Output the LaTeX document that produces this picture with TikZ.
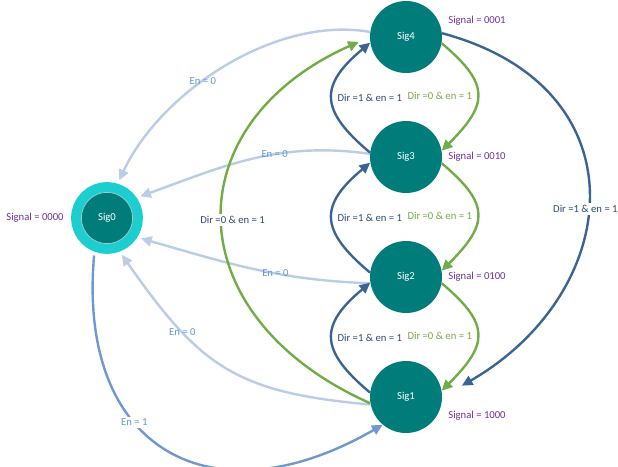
\documentclass[tikz,border=0pt]{standalone}
\usepackage{fontspec}
\setmainfont{Carlito}
\usetikzlibrary{arrows.meta}
\definecolor{stateteal}{RGB}{0,124,122}
\definecolor{ringcyan}{RGB}{28,206,208}
\definecolor{enzero}{RGB}{185,205,230}
\definecolor{enone}{RGB}{112,152,206}
\definecolor{dirone}{RGB}{58,100,146}
\definecolor{dirzero}{RGB}{112,173,71}
\definecolor{sigpurple}{RGB}{112,48,160}
\definecolor{entxt}{RGB}{91,155,213}
\definecolor{dirtxt}{RGB}{44,74,122}
\def\ptxt#1{\textcolor{sigpurple}{#1}}

\begin{document}
\begin{tikzpicture}[x=.75pt,y=.75pt,font=\fontsize{8}{9.6}\selectfont,
   state/.style={circle,fill=stateteal,text=white,minimum size=54pt,inner sep=0pt},
   trans/.style={line width=1.8pt,-{Triangle[length=8pt,width=7.5pt]}},
   gap/.style={fill=white,inner sep=1.5pt}]
\useasboundingbox (0,0) rectangle (618,-467);
       \node [state] at (406,-37) (sig4) {Sig4};
       \node at (477,-21) (sig4 out) {\ptxt{Signal = 0001}};
          \node [state] at (406,-157) (sig3) {Sig3};
          \node at (477,-157) (sig3 out) {\ptxt{Signal = 0010}};
             \node [state] at (406,-277) (sig2) {Sig2};
             \node at (477,-277) (sig2 out) {\ptxt{Signal = 0100}};
                \node [state] at (406,-397) (sig1) {Sig1};
                \node at (477,-416) (sig1 out) {\ptxt{Signal = 1000}};
       \node [state,minimum size=38.5pt,draw=white!60!stateteal,line width=.6pt,
              preaction={draw=ringcyan,line width=15.4pt},outer sep=10.5pt] at (107,-218) (sig0) {Sig0};
       \node at (35,-218) (sig0 out) {\ptxt{Signal = 0000}};
%
%
\path[trans,color=enzero] (sig4.172) edge [out=170,in=65,looseness=.85] node [pos=.58,text=entxt] {En = 0} (sig0.72);
\path[trans,color=enzero] (sig3.175) edge [out=172,in=20] node [pos=.4,text=entxt] {En = 0} (sig0.33);
\path[trans,color=enzero] (sig2.190) edge [out=178,in=-16] node [pos=.4,text=entxt] {En = 0} (sig0.-31);
\path[trans,color=enzero] (sig1.192) edge [out=175,in=-55,looseness=1.2] node [pos=.71,text=entxt] {En = 0} (sig0.-68);
\path[trans,color=enone] (sig0.-109) edge [out=-95,in=210,looseness=1.5] node [gap,pos=.38,text=entxt] {En = 1} (sig1.-130);
%
\path[trans,color=dirzero] (sig4.-10) edge [out=-40,in=45,looseness=1.55] node [left] {Dir =0 \& en = 1} (sig3.10);
\path[trans,color=dirzero] (sig3.-10) edge [out=-40,in=45,looseness=1.55] node [left] {Dir =0 \& en = 1} (sig2.10);
\path[trans,color=dirzero] (sig2.-10) edge [out=-40,in=45,looseness=1.55] node [left] {Dir =0 \& en = 1} (sig1.10);
\path[trans,color=dirone] (sig3.173) edge [out=140,in=220,looseness=1.55] node [right,text=dirtxt] {Dir =1 \& en = 1} (sig4.189);
\path[trans,color=dirone] (sig2.173) edge [out=140,in=220,looseness=1.55] node [right,text=dirtxt] {Dir =1 \& en = 1} (sig3.189);
\path[trans,color=dirone] (sig1.173) edge [out=140,in=220,looseness=1.55] node [right,text=dirtxt] {Dir =1 \& en = 1} (sig2.189);
%
\path[trans,color=dirone] (sig4.6) edge [out=-15,in=30,looseness=1.48,shorten >=17pt] node [gap,pos=.53,text=dirtxt] {Dir =1 \& en = 1} (sig1.0);
\path[trans,color=dirzero] (sig1.190) edge [out=156,in=204,looseness=1.5,shorten >=9pt] node [gap,xshift=7pt,text=dirtxt] {Dir =0 \& en = 1} (sig4.180);

\end{tikzpicture}
\end{document}
